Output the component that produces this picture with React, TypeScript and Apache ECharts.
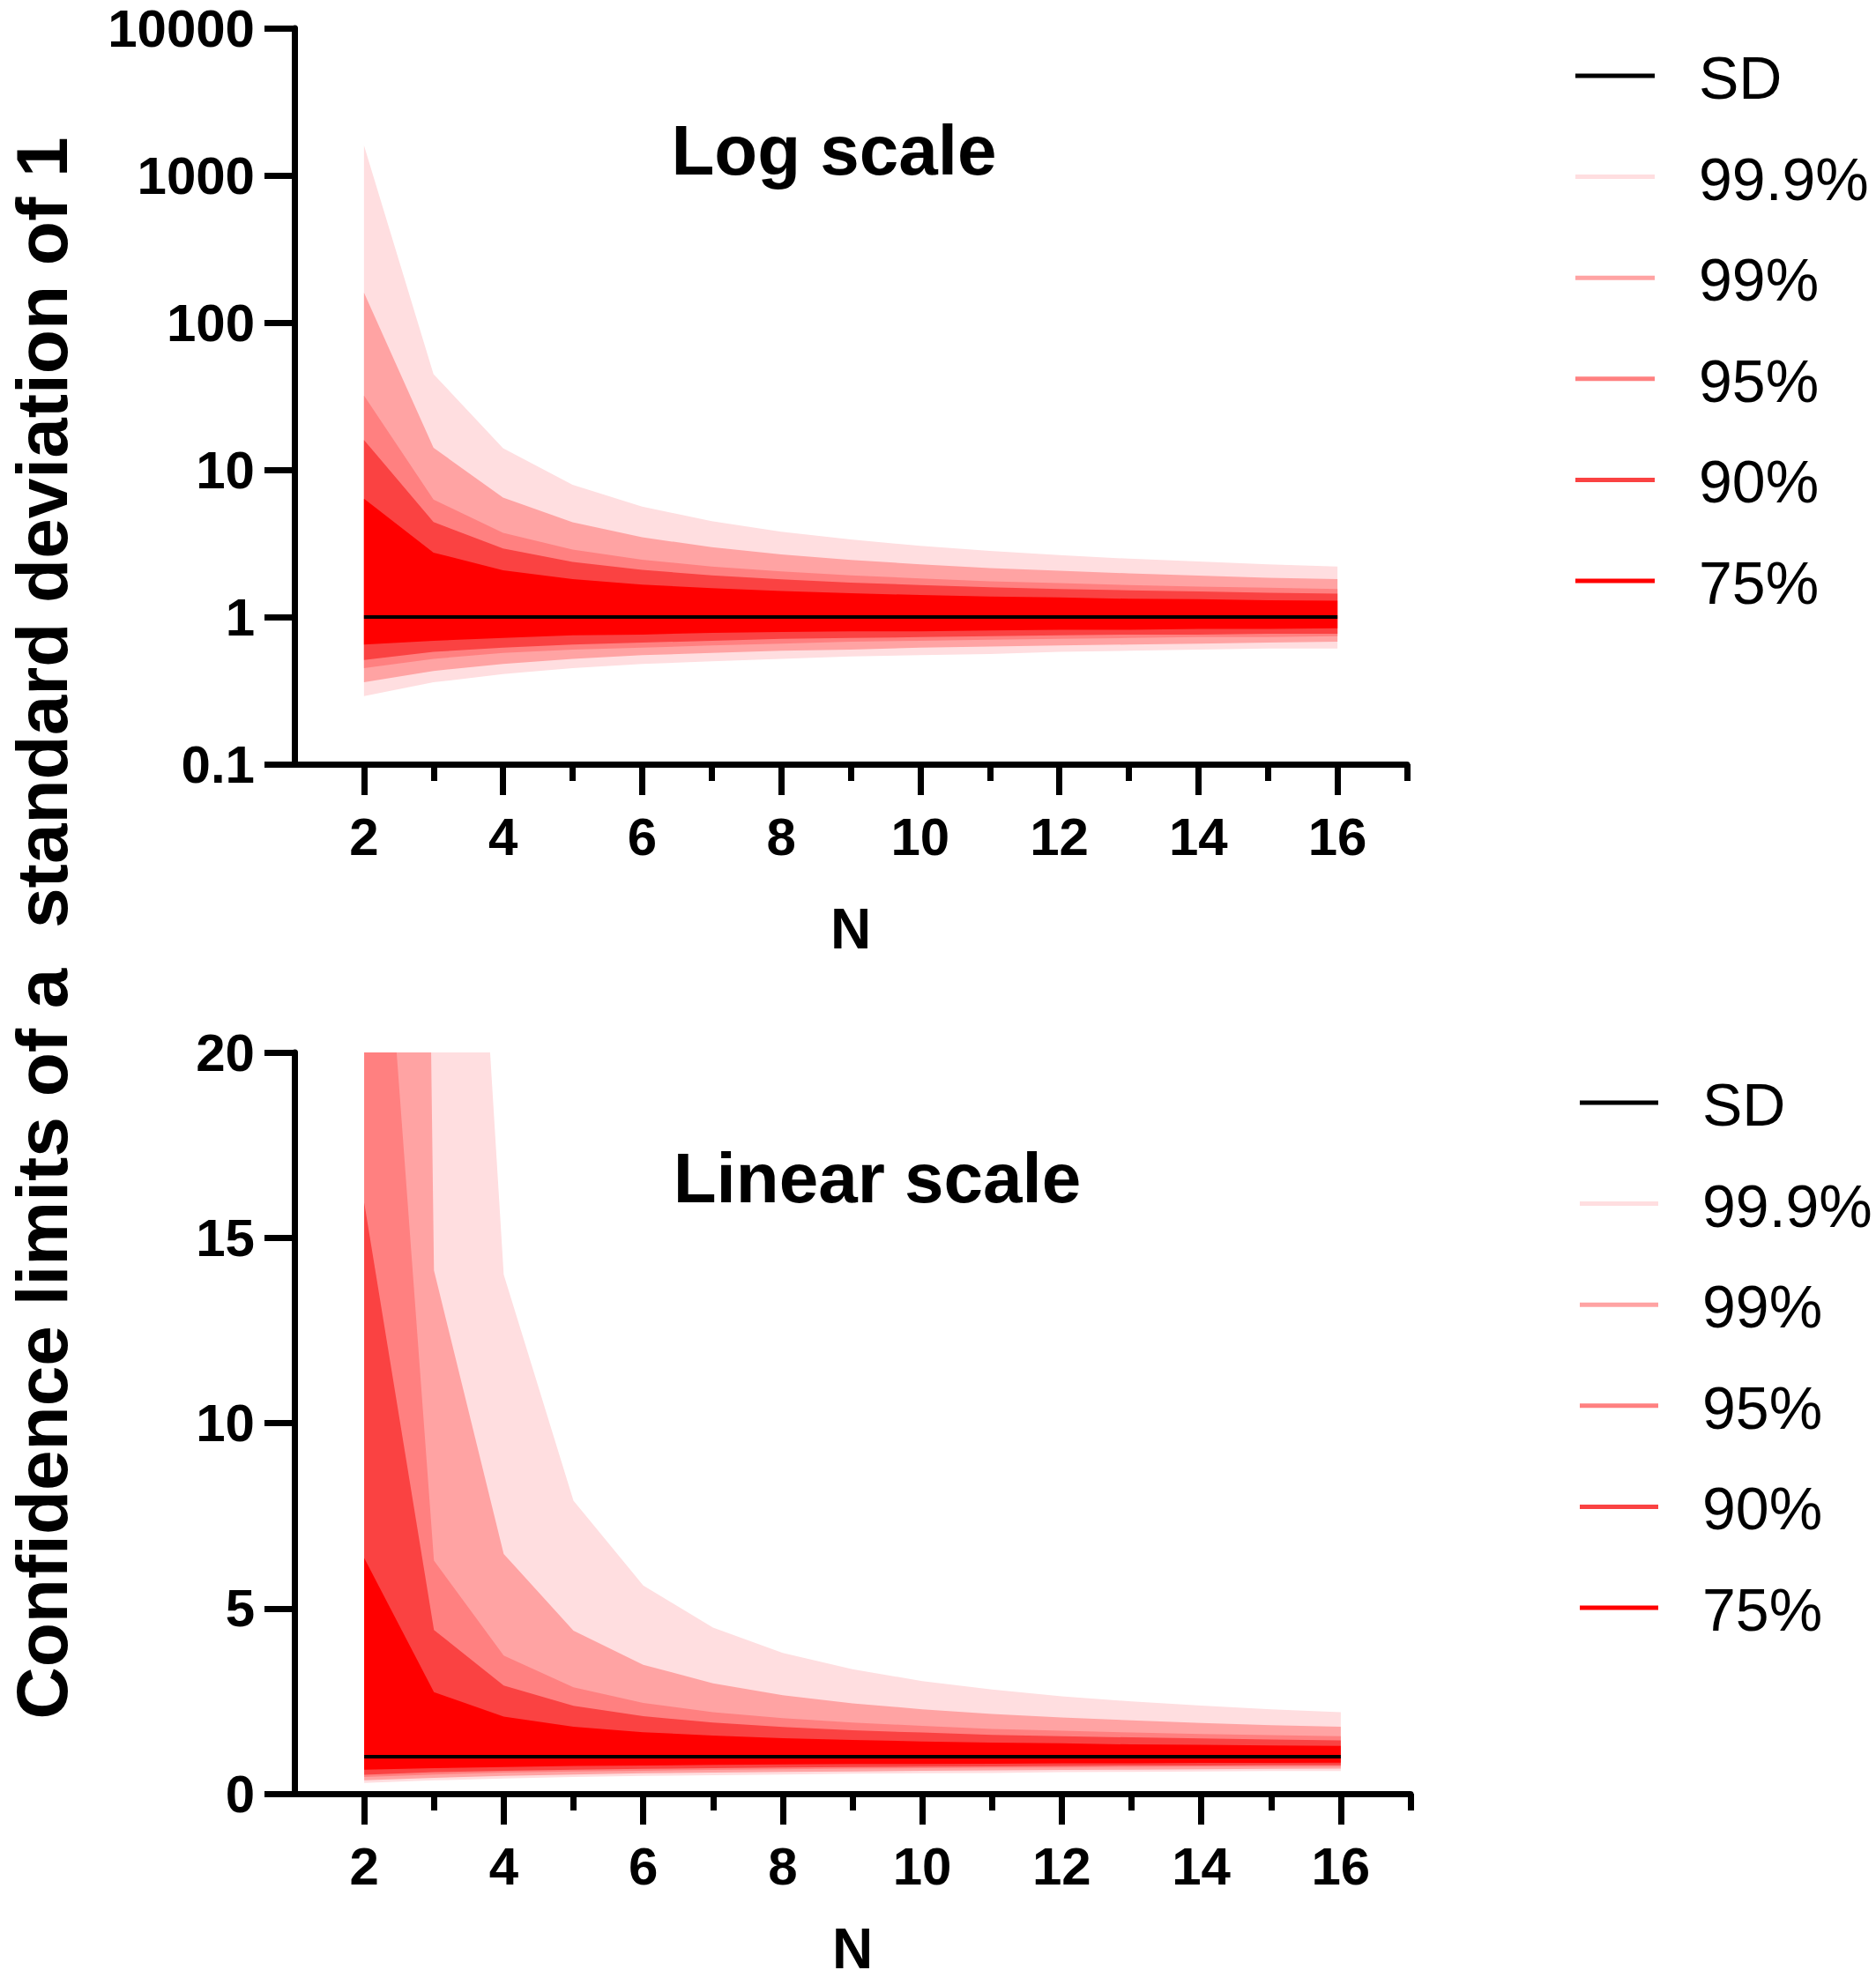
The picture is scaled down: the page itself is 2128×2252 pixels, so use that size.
import React, { useEffect, useRef } from "react";
import * as echarts from "echarts";

// ---- Data ----
const xCategories = ["1", "2", "3", "4", "5", "6", "7", "8", "9", "10", "11", "12", "13", "14", "15", "16", "17"];
const N = [2, 3, 4, 5, 6, 7, 8, 9, 10, 11, 12, 13, 14, 15, 16];
const sdValues = [1, 1, 1, 1, 1, 1, 1, 1, 1, 1, 1, 1, 1, 1, 1];

const upper999 = [1595.7, 44.71, 14.01, 7.91, 5.62, 4.48, 3.8, 3.36, 3.04, 2.81, 2.63, 2.49, 2.38, 2.28, 2.2];
const upper99 = [159.6, 14.12, 6.47, 4.4, 3.48, 2.98, 2.66, 2.44, 2.28, 2.15, 2.06, 1.98, 1.91, 1.85, 1.81];
const upper95 = [31.91, 6.29, 3.73, 2.87, 2.45, 2.2, 2.04, 1.92, 1.83, 1.75, 1.7, 1.65, 1.61, 1.58, 1.55];
const upper90 = [15.95, 4.42, 2.92, 2.37, 2.09, 1.92, 1.8, 1.71, 1.65, 1.59, 1.55, 1.52, 1.49, 1.46, 1.44];
const upper75 = [6.36, 2.74, 2.08, 1.81, 1.66, 1.57, 1.5, 1.45, 1.41, 1.38, 1.36, 1.33, 1.32, 1.3, 1.29];

const lower75 = [0.65, 0.69, 0.72, 0.75, 0.76, 0.78, 0.79, 0.8, 0.8, 0.81, 0.82, 0.82, 0.83, 0.83, 0.84];
const lower90 = [0.51, 0.58, 0.62, 0.65, 0.67, 0.69, 0.71, 0.72, 0.73, 0.74, 0.75, 0.76, 0.76, 0.77, 0.77];
const lower95 = [0.45, 0.52, 0.57, 0.6, 0.62, 0.64, 0.66, 0.68, 0.69, 0.7, 0.71, 0.72, 0.73, 0.73, 0.74];
const lower99 = [0.36, 0.43, 0.48, 0.52, 0.55, 0.57, 0.59, 0.6, 0.62, 0.63, 0.64, 0.65, 0.66, 0.67, 0.68];
const lower999 = [0.29, 0.36, 0.41, 0.45, 0.48, 0.5, 0.52, 0.54, 0.55, 0.56, 0.58, 0.59, 0.6, 0.61, 0.61];

const levelNames = ["99.9%", "99%", "95%", "90%", "75%"];
const levelColors = ["#FFDEE0", "#FFA3A3", "#FF8080", "#FA4242", "#FF0000"];
const levelUpper = [upper999, upper99, upper95, upper90, upper75];
const levelLower = [lower999, lower99, lower95, lower90, lower75];

const legendNames = ["SD", ...levelNames];
const legendColors = ["#000000", ...levelColors];

const xMajorTicks = ["2", "4", "6", "8", "10", "12", "14", "16"];
const xMinorTicks = ["3", "5", "7", "9", "11", "13", "15", "17"];

const yTitle = "Confidence limits of a  standard deviation of 1";
const titles = ["Log scale", "Linear scale"];

const FONT = '"Liberation Sans", Arial, Helvetica, sans-serif';

function buildSeries(gridIdx: number) {
  const xAxisIndex = gridIdx * 2;
  const yAxisIndex = gridIdx;
  const out: any[] = [];
  levelNames.forEach((name, k) => {
    const lo = levelLower[k];
    const up = levelUpper[k];
    const stack = `g${gridIdx}-${k}`;
    out.push({
      type: "line",
      name: name + " lower",
      xAxisIndex,
      yAxisIndex,
      stack,
      symbol: "none",
      silent: true,
      lineStyle: { width: 0, opacity: 0 },
      data: N.map((n, i) => [String(n), lo[i]]),
    });
    out.push({
      type: "line",
      name,
      xAxisIndex,
      yAxisIndex,
      stack,
      symbol: "none",
      color: levelColors[k],
      lineStyle: { width: 0, opacity: 0 },
      areaStyle: { color: levelColors[k], opacity: 1 },
      data: N.map((n, i) => [String(n), up[i] - lo[i]]),
    });
  });
  out.push({
    type: "line",
    name: "SD",
    xAxisIndex,
    yAxisIndex,
    symbol: "none",
    color: "#000",
    lineStyle: { color: "#000", width: 4 },
    data: N.map((n, i) => [String(n), sdValues[i]]),
  });
  return out;
}

function xAxes(gridIndex: number, nameGap: number) {
  return [
    {
      type: "category",
      gridIndex,
      data: xCategories,
      boundaryGap: false,
      position: "bottom",
      axisLine: { show: true, lineStyle: { color: "#000", width: 7 } },
      axisTick: {
        show: true,
        interval: (_i: number, v: string) => xMajorTicks.indexOf(v) >= 0,
        length: 35,
        lineStyle: { color: "#000", width: 7 },
      },
      axisLabel: {
        show: true,
        interval: (_i: number, v: string) => xMajorTicks.indexOf(v) >= 0,
        margin: 52,
        fontSize: 60,
        fontWeight: "bold",
        fontFamily: FONT,
        color: "#000",
      },
      splitLine: { show: false },
      name: "N",
      nameLocation: "middle",
      nameGap,
      nameTextStyle: { fontSize: 64, lineHeight: 46, fontWeight: "bold", fontFamily: FONT, color: "#000" },
    },
    {
      type: "category",
      gridIndex,
      data: xCategories,
      boundaryGap: false,
      position: "bottom",
      axisLine: { show: false },
      axisTick: {
        show: true,
        interval: (_i: number, v: string) => xMinorTicks.indexOf(v) >= 0,
        length: 19,
        lineStyle: { color: "#000", width: 7 },
      },
      axisLabel: { show: false },
      splitLine: { show: false },
    },
  ];
}

const yLabelStyle = {
  margin: 45,
  fontSize: 60,
  fontWeight: "bold",
  fontFamily: FONT,
  color: "#000",
};

function buildGraphic() {
  const els: any[] = [];
  els.push({
    type: "text",
    x: 47,
    y: 1053,
    rotation: Math.PI / 2,
    style: {
      text: yTitle,
      fontSize: 82,
      lineHeight: 74,
      fontWeight: "bold",
      fontFamily: FONT,
      fill: "#000",
      align: "center",
      verticalAlign: "middle",
      textAlign: "center",
      textVerticalAlign: "middle",
    },
  });
  const titlePos = [
    [946, 170],
    [995, 1336],
  ];
  titles.forEach((t, i) => {
    els.push({
      type: "text",
      x: titlePos[i][0],
      y: titlePos[i][1],
      style: {
        text: t,
        fontSize: 80,
        fontWeight: "bold",
        fontFamily: FONT,
        fill: "#000",
        align: "center",
        verticalAlign: "middle",
        textAlign: "center",
        textVerticalAlign: "middle",
      },
    });
  });
  const legends = [
    { x1: 1787, x2: 1877, tx: 1927, y0: 86 },
    { x1: 1792, x2: 1881, tx: 1931, y0: 1251 },
  ];
  const gap = 114.6;
  legends.forEach((lg) => {
    legendNames.forEach((name, i) => {
      const y = lg.y0 + i * gap;
      els.push({
        type: "line",
        shape: { x1: lg.x1, y1: y, x2: lg.x2, y2: y },
        style: { stroke: legendColors[i], lineWidth: 5 },
      });
      els.push({
        type: "text",
        x: lg.tx,
        y: y + 2,
        style: {
          text: name,
          fontSize: 68,
          fontFamily: FONT,
          fill: "#000",
          align: "left",
          verticalAlign: "middle",
          textAlign: "left",
          textVerticalAlign: "middle",
        },
      });
    });
  });
  return els;
}

export default function App() {
  const ref = useRef<HTMLDivElement>(null);
  useEffect(() => {
    if (!ref.current) return;
    const chart = echarts.init(ref.current, undefined, { renderer: "svg" });
    const option: any = {
      animation: false,
      backgroundColor: "#fff",
      grid: [
        { left: 334, top: 32, width: 1262, height: 835 },
        { left: 334, top: 1194, width: 1266, height: 841 },
      ],
      xAxis: [...xAxes(0, 164), ...xAxes(1, 153)],
      yAxis: [
        {
          type: "log",
          logBase: 10,
          gridIndex: 0,
          min: 0.1,
          max: 10000,
          splitNumber: 5,
          axisLine: { show: true, lineStyle: { color: "#000", width: 7 } },
          axisTick: { show: true, length: 34, lineStyle: { color: "#000", width: 7 } },
          axisLabel: {
            ...yLabelStyle,
            formatter: (v: number) => (v < 1 ? "0.1" : String(Math.round(v))),
          },
          splitLine: { show: false },
          minorTick: { show: false },
        },
        {
          type: "value",
          gridIndex: 1,
          min: 0,
          max: 20,
          interval: 5,
          axisLine: { show: true, lineStyle: { color: "#000", width: 7 } },
          axisTick: { show: true, length: 34, lineStyle: { color: "#000", width: 7 } },
          axisLabel: { ...yLabelStyle },
          splitLine: { show: false },
        },
      ],
      series: [...buildSeries(0), ...buildSeries(1)],
      graphic: { elements: buildGraphic() },
    };
    chart.setOption(option);
    return () => chart.dispose();
  }, []);
  return (
    <div
      ref={ref}
      style={{ position: "absolute", left: 0, top: 0, width: 2128, height: 2252, background: "#fff" }}
    />
  );
}
